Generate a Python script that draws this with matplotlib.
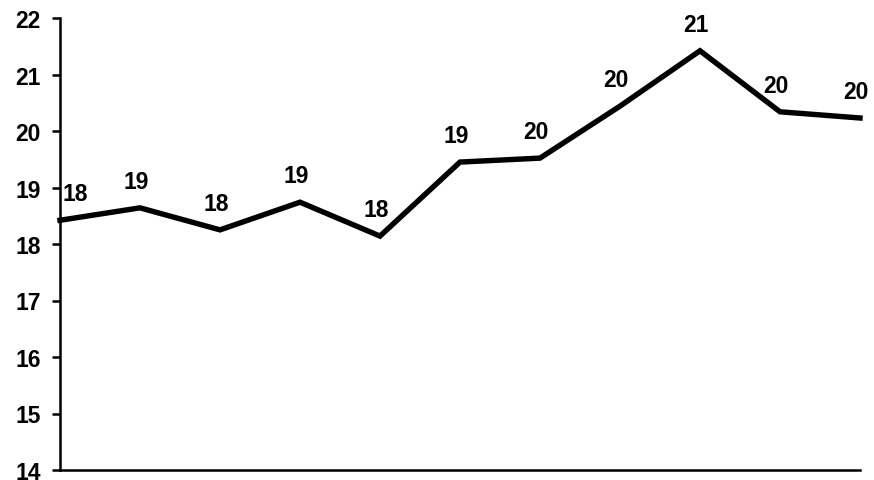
import matplotlib
matplotlib.use("Agg")
import matplotlib.pyplot as plt

# data
points = list(range(11))
values = [18.42, 18.64, 18.25, 18.74, 18.14, 19.45, 19.52, 20.44, 21.42, 20.34, 20.23]
y_ticks = [14, 15, 16, 17, 18, 19, 20, 21, 22]

plt.rcParams['font.family'] = ['Liberation Sans', 'DejaVu Sans']

fig = plt.figure(figsize=(8.74, 4.81), dpi=100, facecolor='white')
ax = fig.add_axes([60 / 874, 10 / 481, 800 / 874, 452 / 481])

ax.plot(points, values, color='black', linewidth=3.9, solid_joinstyle='miter',
        clip_on=False)

# data labels above each point
for i, v in zip(points, values):
    dx = 11 if i == 0 else -3
    ax.annotate(str(int(round(v))), (i, v), xytext=(dx, 19),
                textcoords='offset points', ha='center', va='center',
                fontsize=16.5, fontweight='bold')

ax.set_xlim(0, 10)
ax.set_ylim(14, 22)
ax.set_yticks(y_ticks)
ax.set_yticklabels([str(t) for t in y_ticks], fontsize=16.5, fontweight='bold')
ax.set_xticks([])

for side in ['top', 'right']:
    ax.spines[side].set_visible(False)
for side in ['left', 'bottom']:
    ax.spines[side].set_linewidth(1.8)
ax.tick_params(axis='y', length=6, width=1.8, pad=8)

fig.savefig('out.png', dpi=100, facecolor='white')
